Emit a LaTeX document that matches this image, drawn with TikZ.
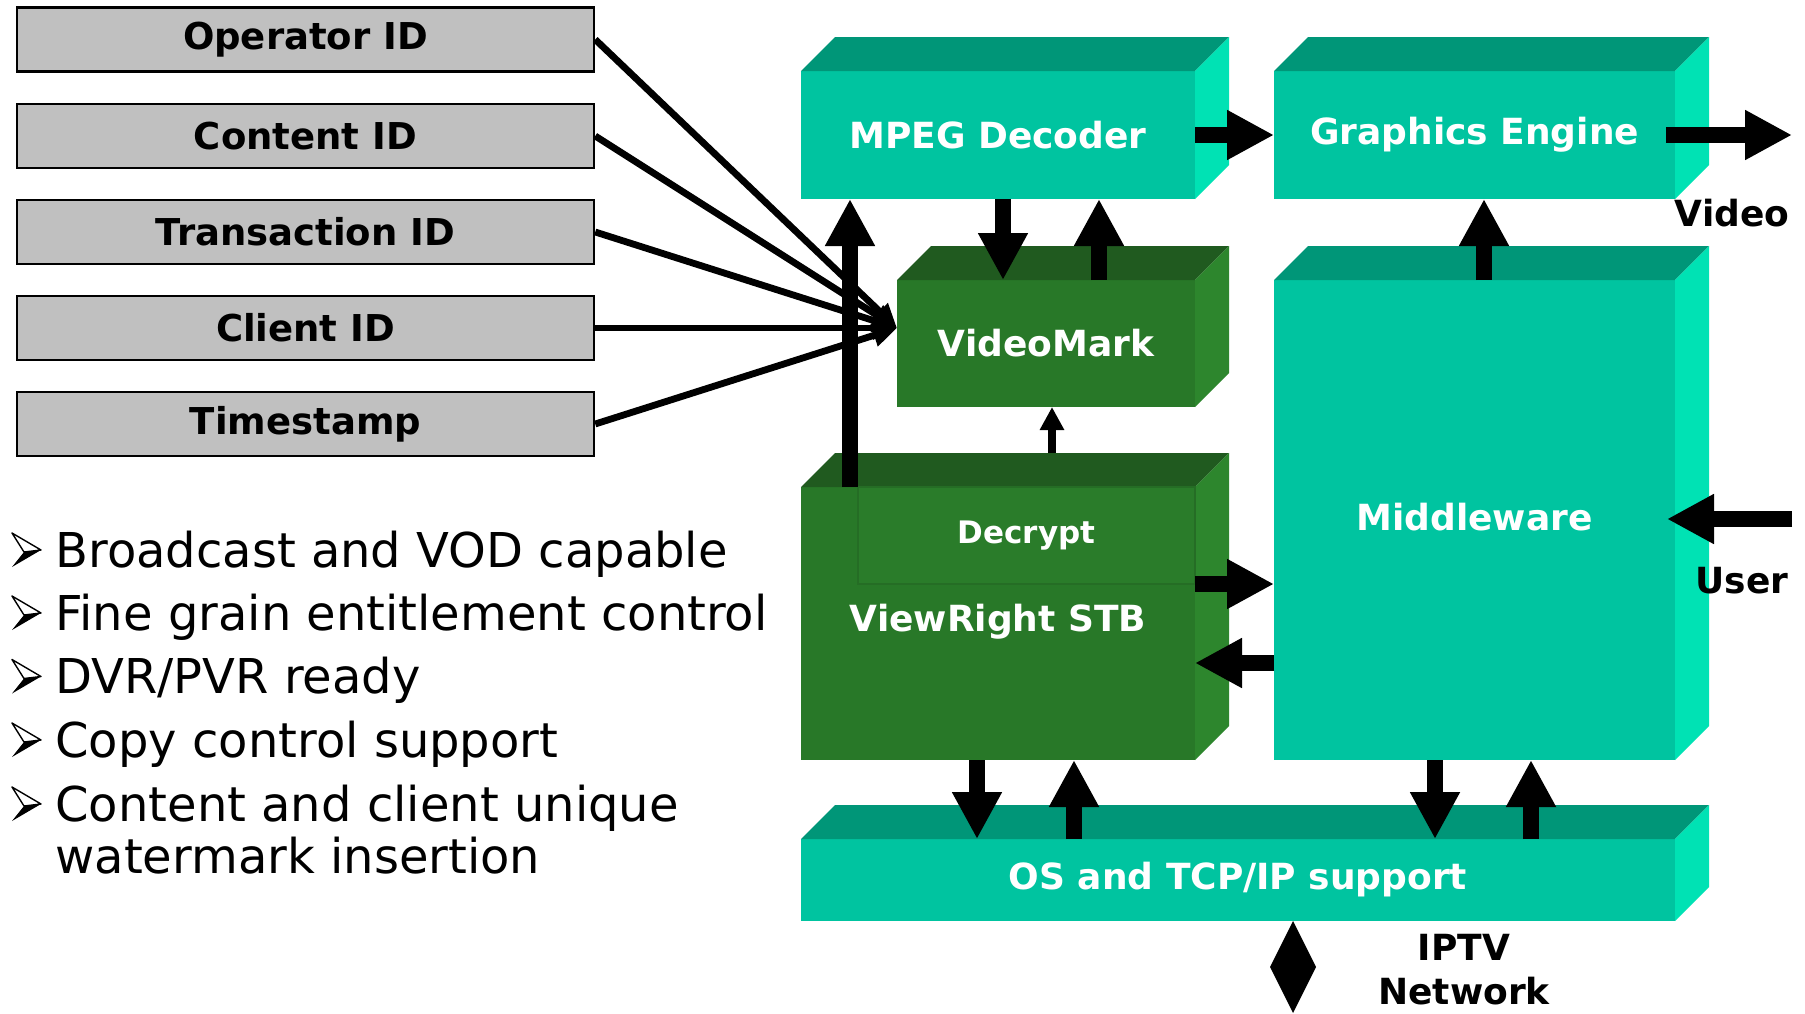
\documentclass[tikz,border=0pt]{standalone}
\usepackage{fontspec}
\setmainfont{DejaVu Sans}
\usetikzlibrary{arrows.meta,calc}
\definecolor{tealF}{RGB}{0,196,160}
\definecolor{tealT}{RGB}{0,150,120}
\definecolor{tealS}{RGB}{0,226,180}
\definecolor{grnF}{RGB}{40,120,40}
\definecolor{grnT}{RGB}{32,90,31}
\definecolor{grnS}{RGB}{45,134,45}
\definecolor{grnD}{RGB}{42,124,42}
\definecolor{idgray}{RGB}{192,192,192}
\tikzset{
  face/.style={inner sep=0pt, outer sep=0pt, text=white, font=\bfseries\fontsize{18}{22}\selectfont},
  tealbox/.style={face, fill=tealF},
  grnbox/.style={face, fill=grnF},
  idbox/.style={draw=black, line width=1.25pt, fill=idgray, minimum width=288.5pt, minimum height=32pt,
    inner sep=0pt, font=\bfseries\fontsize{18.5}{22}\selectfont},
  bigarrow/.style={line width=8pt, -{Triangle[length=23.5pt,width=23.5pt]}},
  smallarrow/.style={line width=4pt, -{Triangle[length=11.5pt,width=11.5pt]}},
  idline/.style={line width=3.4pt, -{Triangle[length=12pt,width=11pt]}},
  outlabel/.style={inner sep=0pt, font=\bfseries\fontsize{18}{22}\selectfont, align=center},
  bullettext/.style={inner sep=0pt, anchor=base west, font=\fontsize{24}{28}\selectfont},
}
\newcommand\boxfaces[3]{%
  \fill[#2] (#1.north west) -- ++(34,-34) -- ($(#1.north east)+(34,-34)$) -- (#1.north east) -- cycle;
  \fill[#3] (#1.north east) -- ++(34,-34) -- ($(#1.south east)+(34,-34)$) -- (#1.south east) -- cycle;
}
\newcommand\bulletmark[1]{%
  \filldraw[fill=white, line width=0.7pt, line join=round] ($(#1)+(-43,-34)$) -- ($(#1)+(-14,-17)$) -- ($(#1)+(-31,-15)$) -- cycle;
  \fill ($(#1)+(-31,-15)$) -- ($(#1)+(-14,-17)$) -- ($(#1)+(-43,0)$) -- cycle;
}
\begin{document}
\begin{tikzpicture}[x=0.5pt,y=-0.5pt]
\fill[white] (0,0) rectangle (1805,1013);
\useasboundingbox (0,0) rectangle (1805,1013);

% ID boxes
\node[idbox] (op) at (305.5,39.5) {Operator ID};
\node[idbox] (ct) at (305.5,136) {Content ID};
\node[idbox] (tr) at (305.5,232) {Transaction ID};
\node[idbox] (cl) at (305.5,328) {Client ID};
\node[idbox] (ts) at (305.5,424) {Timestamp};

% 3D boxes
\node[tealbox, minimum width=197pt, minimum height=64pt] (mpeg) at (998,135) {MPEG Decoder};
\boxfaces{mpeg}{tealT}{tealS}
\node[tealbox, minimum width=200.5pt, minimum height=64pt] (ge) at (1474.5,135) {Graphics Engine};
\boxfaces{ge}{tealT}{tealS}
\node[grnbox, minimum width=149pt, minimum height=63.5pt] (vm) at (1046,343.5) {VideoMark};
\boxfaces{vm}{grnT}{grnS}
\node[tealbox, minimum width=200.5pt, minimum height=240pt] (mw) at (1474.5,520) {};
\boxfaces{mw}{tealT}{tealS}
\node[face] (mwlabel) at (1474.5,517) {Middleware};
\node[grnbox, minimum width=197pt, minimum height=136.5pt] (vr) at (998,623.5) {};
\boxfaces{vr}{grnT}{grnS}
\node[face, fill=grnD, draw=grnT!35!grnF, line width=0.6pt, minimum width=168.5pt, minimum height=48.5pt,
  font=\bfseries\fontsize{15.5}{18}\selectfont] (dec) at (1026.5,535.5) {Decrypt};
\node[face, font=\bfseries\fontsize{18}{21}\selectfont] (vrlabel) at (998,622) {ViewRight STB};
\node[tealbox, minimum width=437pt, minimum height=41pt] (os) at (1238,880) {OS and TCP/IP support};
\boxfaces{os}{tealT}{tealS}

% x / y positions of connectors
\coordinate (cA) at (1003,0);
\coordinate (cB) at (1099,0);
\coordinate (cC) at (850,0);
\coordinate (cD) at (1052,0);
\coordinate (cE) at (977,0);
\coordinate (cF) at (1074,0);
\coordinate (cG) at (1435,0);
\coordinate (cH) at (1531,0);
\coordinate (cI) at (1484,0);
\coordinate (cJ) at (1293,0);
\coordinate (rA) at (0,584);
\coordinate (rB) at (0,663);
\coordinate (vmin) at (897,328);
\coordinate (vidout) at (1792,135);
\coordinate (userin) at (1792,519);
\coordinate (usertip) at (1667,519);

% ID lines
\draw[idline] (op.east) -- (vmin);
\draw[idline] (ct.east) -- (vmin);
\draw[idline] (tr.east) -- (vmin);
\draw[idline] (cl.east) -- (vmin);
\draw[idline] (ts.east) -- (vmin);

% arrows
\draw[bigarrow] (mpeg.south -| cA) -- (vm.north -| cA);
\draw[bigarrow] (vm.north -| cB) -- (mpeg.south -| cB);
\draw[bigarrow] (vr.north -| cC) -- (mpeg.south -| cC);
\draw[smallarrow] ($(vr.north -| cD)+(0,-34)$) -- (vm.south -| cD);
\draw[bigarrow] (vr.south -| cE) -- (os.north -| cE);
\draw[bigarrow] (os.north -| cF) -- (vr.south -| cF);
\draw[bigarrow] (mw.south -| cG) -- (os.north -| cG);
\draw[bigarrow] (os.north -| cH) -- (mw.south -| cH);
\draw[bigarrow] (mw.north -| cI) -- (ge.south -| cI);
\draw[bigarrow] (mpeg.east) -- (ge.west);
\draw[bigarrow] ($(ge.east)+(-9,0)$) -- (vidout);
\draw[bigarrow] (userin) -- (usertip);
\draw[bigarrow] (vr.east |- rA) -- (mw.west |- rA);
\draw[bigarrow] (mw.west |- rB) -- (vr.east |- rB);
\fill (os.south -| cJ) -- ++(23,46) -- ++(-23,46) -- ++(-23,-46) -- cycle;

% outside labels
\node[outlabel] (video) at (1732,213) {Video};
\node[outlabel] (user) at (1742,581) {User};
\node[outlabel] (iptv) at (1464,970) {IPTV\\Network};

% bullets
\node[bullettext] (b1) at (55,567) {Broadcast and VOD capable};
\node[bullettext] (b2) at (55,630) {Fine grain entitlement control};
\node[bullettext] (b3) at (55,693.5) {DVR/PVR ready};
\node[bullettext] (b4) at (55,757) {Copy control support};
\node[bullettext] (b5) at (55,821) {Content and client unique};
\node[bullettext] (b6) at (55,873) {watermark insertion};
\bulletmark{b1.base west}
\bulletmark{b2.base west}
\bulletmark{b3.base west}
\bulletmark{b4.base west}
\bulletmark{b5.base west}
\end{tikzpicture}
\end{document}
